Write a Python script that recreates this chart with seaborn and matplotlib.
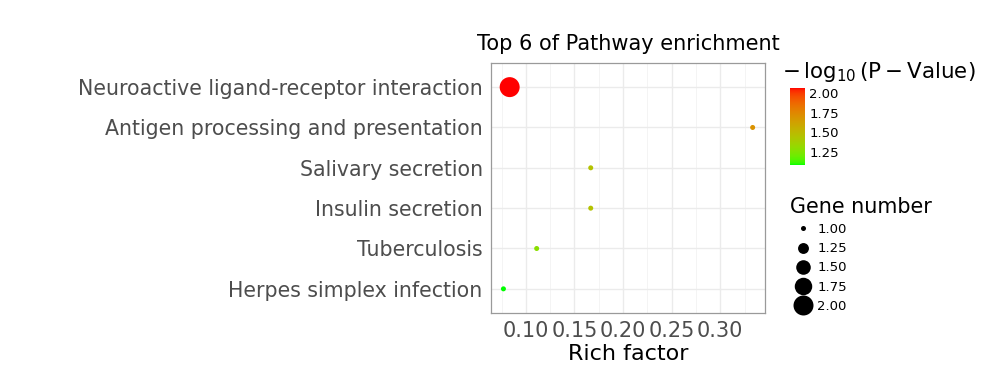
import numpy as np
import pandas as pd
import matplotlib
matplotlib.use("Agg")
import matplotlib.pyplot as plt
from matplotlib.colors import ListedColormap, Normalize
from matplotlib.lines import Line2D
import seaborn as sns

# ---- data (top to bottom as shown) ----
pathways = ["Neuroactive ligand-receptor interaction",
            "Antigen processing and presentation",
            "Salivary secretion",
            "Insulin secretion",
            "Tuberculosis",
            "Herpes simplex infection"]
rich_factor = [0.0833, 0.3333, 0.1667, 0.1667, 0.1111, 0.0769]
neg_log10_p = [2.07, 1.70, 1.45, 1.45, 1.28, 1.08]
gene_number = [2, 1, 1, 1, 1, 1]
cbar_ticks = [1.25, 1.50, 1.75, 2.00]
size_ticks = [1.00, 1.25, 1.50, 1.75, 2.00]
x_ticks = [0.10, 0.15, 0.20, 0.25, 0.30]

df = pd.DataFrame({"Pathway": pathways, "Rich factor": rich_factor,
                   "logp": neg_log10_p, "Gene number": gene_number}).iloc[::-1]

# ---- green -> red gradient interpolated in Lab (like ggplot2) ----
def srgb_to_lab(rgb):
    rgb = np.asarray(rgb, float)
    lin = np.where(rgb <= 0.04045, rgb / 12.92, ((rgb + 0.055) / 1.055) ** 2.4)
    M = np.array([[0.4124, 0.3576, 0.1805], [0.2126, 0.7152, 0.0722], [0.0193, 0.1192, 0.9505]])
    xyz = M @ lin / np.array([0.95047, 1.0, 1.08883])
    f = np.where(xyz > 0.008856, np.cbrt(xyz), 7.787 * xyz + 16 / 116)
    return np.array([116 * f[1] - 16, 500 * (f[0] - f[1]), 200 * (f[1] - f[2])])

def lab_to_srgb(lab):
    L, a, b = lab
    fy = (L + 16) / 116; fx = fy + a / 500; fz = fy - b / 200
    f = np.array([fx, fy, fz])
    xyz = np.where(f ** 3 > 0.008856, f ** 3, (f - 16 / 116) / 7.787) * np.array([0.95047, 1.0, 1.08883])
    Minv = np.array([[3.2406, -1.5372, -0.4986], [-0.9689, 1.8758, 0.0415], [0.0557, -0.2040, 1.0570]])
    lin = Minv @ xyz
    rgb = np.where(lin <= 0.0031308, 12.92 * lin, 1.055 * np.clip(lin, 0, None) ** (1 / 2.4) - 0.055)
    return np.clip(rgb, 0, 1)

lab_lo = srgb_to_lab([0, 1, 0]); lab_hi = srgb_to_lab([1, 0, 0])
cols = [lab_to_srgb(lab_lo + t * (lab_hi - lab_lo)) for t in np.linspace(0, 1, 256)]
cmap = ListedColormap(cols)
vmin, vmax = min(neg_log10_p), max(neg_log10_p)
norm = Normalize(vmin, vmax)

def size_s(v):
    return 13 + 194 * (v - 1)

# ---- figure ----
sns.set_style("white")
plt.rcParams["font.family"] = ["DejaVu Sans"]
plt.rcParams["text.color"] = "black"
fig = plt.figure(figsize=(10, 3.86), dpi=100)
ax = fig.add_axes([0.491, 0.189, 0.274, 0.648])

sns.scatterplot(data=df, x="Rich factor", y="Pathway", hue="logp", size="Gene number",
                palette=cmap, hue_norm=norm, sizes=(size_s(1), size_s(2)), size_norm=(1, 2),
                legend=False, linewidth=0, ax=ax, zorder=3)

ax.set_xlim(0.0641, 0.346)
ax.set_ylim(-0.6, 5.6)
ax.set_xticks(x_ticks)
ax.set_xticklabels([f"{t:.2f}" for t in x_ticks])
ax.set_xticks([0.075, 0.125, 0.175, 0.225, 0.275, 0.325], minor=True)
ax.grid(True, which="major", color="#EBEBEB", linewidth=1.0, zorder=0)
ax.grid(True, which="minor", axis="x", color="#F3F3F3", linewidth=0.6, zorder=0)
ax.set_axisbelow(True)
for sp in ax.spines.values():
    sp.set_color("#9A9A9A"); sp.set_linewidth(0.9)
ax.tick_params(axis="y", which="major", length=4, width=0.9, color="#4D4D4D",
               labelsize=14.8, labelcolor="#4D4D4D", pad=2)
ax.tick_params(axis="x", which="major", length=4, width=0.9, color="#4D4D4D",
               labelsize=15, labelcolor="#4D4D4D", pad=2)
ax.tick_params(axis="both", which="minor", length=0)
ax.set_ylabel("")
ax.set_xlabel("Rich factor", fontsize=16, color="black", labelpad=2)
ax.set_title("Top 6 of Pathway enrichment", fontsize=15, color="black", pad=9)

# colorbar
cax = fig.add_axes([0.790, 1 - 165 / 386, 0.015, 77 / 386])
sm = plt.cm.ScalarMappable(norm=norm, cmap=cmap)
cb = fig.colorbar(sm, cax=cax, ticks=cbar_ticks)
cb.outline.set_visible(False)
cb.ax.tick_params(length=3, width=0.8, color="white", direction="in", left=True, right=True,
                  labelsize=9.5, labelcolor="black", pad=3)
cb.ax.set_yticklabels([f"{t:.2f}" for t in cbar_ticks])
fig.text(0.782, 1 - 72 / 386, r"$-\,\log_{10}(\mathrm{P-Value})$", fontsize=15.4,
         va="center", ha="left", color="black")

# size legend
fig.text(0.790, 1 - 207 / 386, "Gene number", fontsize=14.9, va="center", ha="left", color="black")
handles = [Line2D([], [], marker="o", linestyle="", color="black", markeredgewidth=0,
                  markersize=np.sqrt(size_s(v))) for v in size_ticks]
leg = fig.legend(handles, [f"{v:.2f}" for v in size_ticks], loc="upper left",
                 bbox_to_anchor=(0.795, 1 - 223 / 386), frameon=False, fontsize=9.5,
                 handlelength=1.2, handletextpad=0.5, labelspacing=0.47, borderpad=0,
                 borderaxespad=0, labelcolor="black")

fig.savefig("out.png", dpi=100, facecolor="white")
